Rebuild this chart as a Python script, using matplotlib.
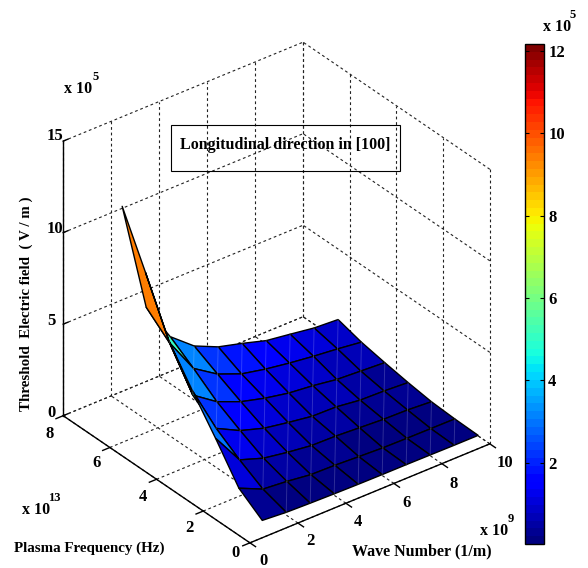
import numpy as np
import matplotlib
matplotlib.use('Agg')
import matplotlib.pyplot as plt
from matplotlib.cm import ScalarMappable
from matplotlib.colors import Normalize
from matplotlib.patches import Rectangle

W, H = 588, 568
plt.rcParams['font.family'] = ['Liberation Serif', 'DejaVu Serif']
plt.rcParams['font.weight'] = 'bold'

# wave number (1e9 1/m), plasma frequency (1e13 Hz)
wave_number = [1, 2, 3, 4, 5, 6, 7, 8, 9, 10]
plasma_freq = [0.5, 1.5, 2.5, 3.5, 4.5, 5.5, 6.5]

# threshold field (1e5 V/m), one row per plasma frequency
field_f05 = [0.25, 0.15, 0.11, 0.08, 0.06, 0.05, 0.05, 0.04, 0.03, 0.03]
field_f15 = [1.14, 0.55, 0.43, 0.26, 0.23, 0.16, 0.10, 0.08, 0.07, 0.06]
field_f25 = [3.00, 1.28, 0.83, 0.61, 0.44, 0.41, 0.33, 0.25, 0.22, 0.13]
field_f35 = [4.75, 2.13, 1.47, 1.06, 0.83, 0.63, 0.60, 0.43, 0.39, 0.31]
field_f45 = [6.60, 3.08, 2.18, 1.64, 1.29, 1.03, 0.89, 0.69, 0.61, 0.53]
field_f55 = [9.45, 5.07, 3.13, 2.28, 1.75, 1.47, 1.26, 1.09, 0.95, 0.78]
field_f65 = [12.20, 6.15, 4.00, 2.95, 2.36, 2.01, 1.62, 1.43, 1.23, 1.15]

x_ticks = [0, 2, 4, 6, 8, 10]
y_ticks = [0, 2, 4, 6, 8]
z_ticks = [0, 5, 10, 15]
cbar_ticks = [2, 4, 6, 8, 10, 12]
cbar_lim = [0.03, 12.17]

x_max, y_max, z_max = x_ticks[-1], y_ticks[-1], z_ticks[-1]

fig = plt.figure(figsize=(W / 100, H / 100), dpi=100)


def fig_text(px, py, s, **kw):
    kw.setdefault('ha', 'center')
    kw.setdefault('va', 'center')
    kw.setdefault('fontsize', 12)
    return fig.text(px / W, 1 - py / H, s, **kw)


# 3d part, the pane and axis drawing of mplot3d is replaced by own lines
ax = fig.add_axes([19.75 / W, 18.75 / H, 500 / W, 500 / H], projection='3d')
ax.set_proj_type('ortho')
ax.view_init(elev=32, azim=-127.9)
ax.set_box_aspect((1, 1, 1.065), zoom=1.045)
ax.set_xlim(0, x_max, view_margin=0)
ax.set_ylim(0, y_max, view_margin=0)
ax.set_zlim(0, z_max, view_margin=0)
ax.set_axis_off()
ax.patch.set_alpha(0)
ax.computed_zorder = False

dash = dict(color='#222222', lw=0.8, ls=(0, (2.5, 2.5)), zorder=1, clip_on=False)
solid = dict(color='k', lw=1.0, zorder=1, clip_on=False)

for x in x_ticks:
    ax.plot([x, x], [0, y_max], [0, 0], **dash)
    ax.plot([x, x], [y_max, y_max], [0, z_max], **dash)
    ax.plot([x, x], [0, -y_max * 0.03], [0, 0], **solid)
for y in y_ticks:
    ax.plot([0, x_max], [y, y], [0, 0], **dash)
    ax.plot([x_max, x_max], [y, y], [0, z_max], **dash)
    ax.plot([0, -x_max * 0.03], [y, y], [0, 0], **solid)
for z in z_ticks:
    ax.plot([0, x_max], [y_max, y_max], [z, z], **dash)
    ax.plot([x_max, x_max], [0, y_max], [z, z], **dash)
    ax.plot([0, x_max * 0.02], [y_max, y_max], [z, z], **solid)

ax.plot([0, x_max], [0, 0], [0, 0], **solid)
ax.plot([0, 0], [0, y_max], [0, 0], **solid)
ax.plot([0, 0], [y_max, y_max], [0, z_max], **solid)

X, Y = np.meshgrid(wave_number, plasma_freq)
Z = np.array([field_f05, field_f15, field_f25, field_f35,
              field_f45, field_f55, field_f65])
cmap = plt.get_cmap('jet', 64)
norm = Normalize(*cbar_lim)
ax.plot_surface(X, Y, Z, facecolors=cmap(norm(Z)), rstride=1, cstride=1,
                shade=False, edgecolor='k', linewidth=1.0, antialiased=True,
                zorder=2)

# faint seams along the cell diagonals
for j in range(len(plasma_freq) - 1):
    for i in range(1, len(wave_number) - 1):
        ax.plot(X[j:j + 2, i:i + 2].diagonal(), Y[j:j + 2, i:i + 2].diagonal(),
                Z[j:j + 2, i:i + 2].diagonal(), color='white', alpha=0.18,
                lw=0.7, zorder=3)

# colorbar
cax = fig.add_axes([525 / W, 1 - 544 / H, 19 / W, 500 / H])
cb = fig.colorbar(ScalarMappable(norm=norm, cmap=cmap), cax=cax)
cb.set_ticks(cbar_ticks)
cax.tick_params(axis='y', direction='in', left=True, right=True, length=3,
                width=0.8, labelsize=12, pad=3)
cb.outline.set_linewidth(1.0)
cb.minorticks_off()

# tick labels
for s, px, py in zip(x_ticks, [263, 310, 358, 407, 454, 505],
                     [561, 541, 522, 503, 484, 463]):
    fig_text(px, py, str(s))
for s, px, py in zip(y_ticks, [236, 189, 143, 97, 50],
                     [553, 528, 497, 463, 434]):
    fig_text(px, py, str(s))
for s, px, py in zip(z_ticks, [51, 51, 55, 55], [413, 321, 229, 136]):
    fig_text(px, py, str(s))

# exponents
for px, py, base, exp, dx in [(78, 89, 'x 10', '5', 18), (36, 510, 'x 10', '13', 18),
                              (494, 531, 'x 10', '9', 17), (557, 27, 'x 10', '5', 16)]:
    fig_text(px, py, base, fontsize=11.5)
    fig_text(px + dx, py - 12, exp, fontsize=9)

fig_text(26, 304, 'Threshold  Electric field  ( V / m )', rotation=90, fontsize=10.8)
fig_text(89, 548, 'Plasma Frequency (Hz)', fontsize=10.8)
fig_text(422, 551, 'Wave Number (1/m)', fontsize=11.5)

fig.add_artist(Rectangle((171 / W, 1 - 171 / H), 229 / W, 46 / H, fill=False,
                         edgecolor='k', lw=0.8, transform=fig.transFigure))
fig_text(285, 145, 'Longitudinal direction in [100]', fontsize=11.5)

fig.savefig('out.png', dpi=100)
